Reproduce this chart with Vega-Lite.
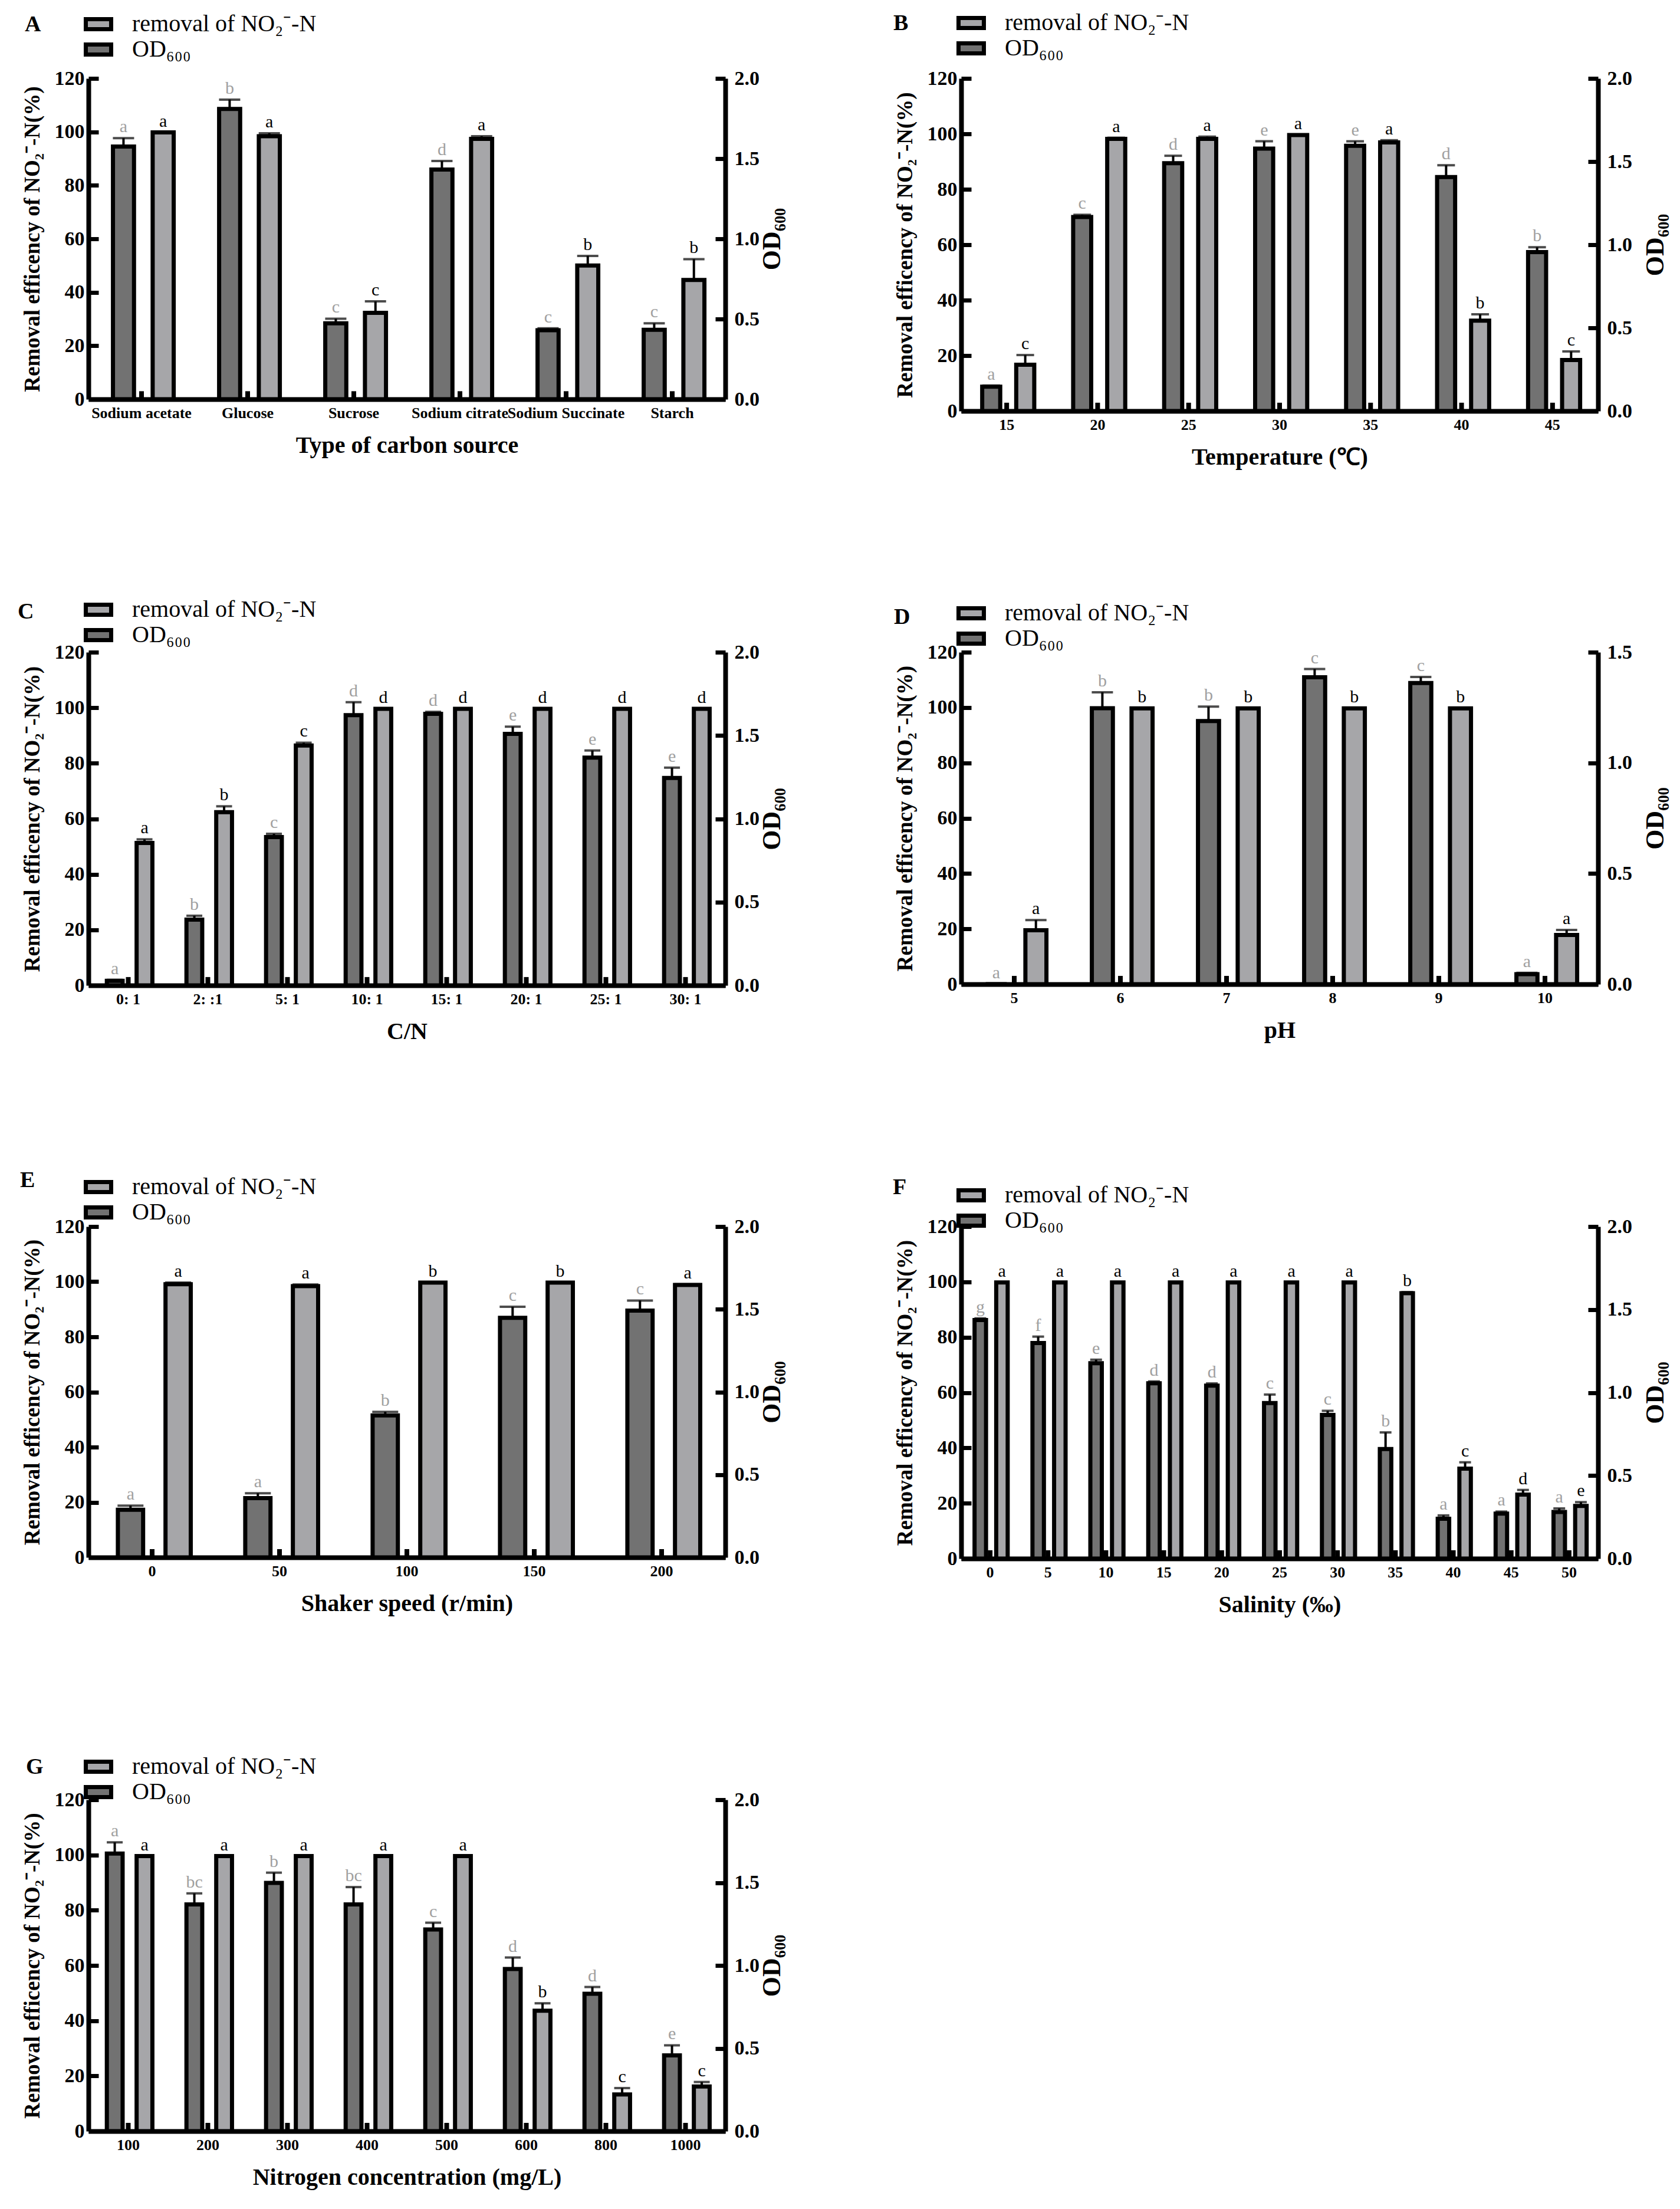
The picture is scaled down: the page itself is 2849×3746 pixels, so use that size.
{
"$schema": "https://vega.github.io/schema/vega-lite/v6.json",
"background": "white",
"padding": {"left": 30, "top": 19, "right": 5, "bottom": 5},
"config": {"view": {"stroke": null}, "font": "Liberation Serif"},
"datasets": {
"A": [
{"c":"Sodium acetate","s":"od","v":1.575,"hi":1.628,"l":"a"},
{"c":"Glucose","s":"od","v":1.81,"hi":1.868,"l":"b"},
{"c":"Sucrose","s":"od","v":0.473,"hi":0.502,"l":"c"},
{"c":"Sodium citrate","s":"od","v":1.432,"hi":1.485,"l":"d"},
{"c":"Sodium Succinate","s":"od","v":0.43,"hi":0.442,"l":"c"},
{"c":"Starch","s":"od","v":0.433,"hi":0.473,"l":"c"},
{"c":"Sodium acetate","s":"rem","v":99.8,"hi":99.8,"l":"a"},
{"c":"Glucose","s":"rem","v":98.4,"hi":99.5,"l":"a"},
{"c":"Sucrose","s":"rem","v":32.3,"hi":36.6,"l":"c"},
{"c":"Sodium citrate","s":"rem","v":97.4,"hi":98.4,"l":"a"},
{"c":"Sodium Succinate","s":"rem","v":50.0,"hi":53.6,"l":"b"},
{"c":"Starch","s":"rem","v":44.6,"hi":52.4,"l":"b"}
],
"B": [
{"c":"15","s":"od","v":0.146,"hi":0.153,"l":"a"},
{"c":"20","s":"od","v":1.167,"hi":1.18,"l":"c"},
{"c":"25","s":"od","v":1.49,"hi":1.535,"l":"d"},
{"c":"30","s":"od","v":1.578,"hi":1.622,"l":"e"},
{"c":"35","s":"od","v":1.595,"hi":1.622,"l":"e"},
{"c":"40","s":"od","v":1.407,"hi":1.478,"l":"d"},
{"c":"45","s":"od","v":0.956,"hi":0.985,"l":"b"},
{"c":"15","s":"rem","v":16.7,"hi":20.2,"l":"c"},
{"c":"20","s":"rem","v":98.2,"hi":98.6,"l":"a"},
{"c":"25","s":"rem","v":98.2,"hi":99.0,"l":"a"},
{"c":"30","s":"rem","v":99.6,"hi":99.6,"l":"a"},
{"c":"35","s":"rem","v":96.9,"hi":97.7,"l":"a"},
{"c":"40","s":"rem","v":32.6,"hi":34.9,"l":"b"},
{"c":"45","s":"rem","v":18.4,"hi":21.5,"l":"c"}
],
"C": [
{"c":"0: 1","s":"od","v":0.027,"hi":0.033,"l":"a"},
{"c":"2: :1","s":"od","v":0.395,"hi":0.418,"l":"b"},
{"c":"5: 1","s":"od","v":0.89,"hi":0.91,"l":"c"},
{"c":"10: 1","s":"od","v":1.622,"hi":1.7,"l":"d"},
{"c":"15: 1","s":"od","v":1.63,"hi":1.642,"l":"d"},
{"c":"20: 1","s":"od","v":1.51,"hi":1.553,"l":"e"},
{"c":"25: 1","s":"od","v":1.367,"hi":1.41,"l":"e"},
{"c":"30: 1","s":"od","v":1.245,"hi":1.307,"l":"e"},
{"c":"0: 1","s":"rem","v":51.3,"hi":52.6,"l":"a"},
{"c":"2: :1","s":"rem","v":62.4,"hi":64.5,"l":"b"},
{"c":"5: 1","s":"rem","v":86.4,"hi":87.4,"l":"c"},
{"c":"10: 1","s":"rem","v":99.6,"hi":99.6,"l":"d"},
{"c":"15: 1","s":"rem","v":99.6,"hi":99.6,"l":"d"},
{"c":"20: 1","s":"rem","v":99.6,"hi":99.6,"l":"d"},
{"c":"25: 1","s":"rem","v":99.6,"hi":99.6,"l":"d"},
{"c":"30: 1","s":"rem","v":99.6,"hi":99.6,"l":"d"}
],
"D": [
{"c":"5","s":"od","v":0,"hi":0,"l":"a"},
{"c":"6","s":"od","v":1.247,"hi":1.319,"l":"b"},
{"c":"7","s":"od","v":1.189,"hi":1.254,"l":"b"},
{"c":"8","s":"od","v":1.387,"hi":1.424,"l":"c"},
{"c":"9","s":"od","v":1.361,"hi":1.388,"l":"c"},
{"c":"10","s":"od","v":0.045,"hi":0.051,"l":"a"},
{"c":"5","s":"rem","v":19.5,"hi":23.2,"l":"a"},
{"c":"6","s":"rem","v":99.7,"hi":99.7,"l":"b"},
{"c":"7","s":"rem","v":99.7,"hi":99.7,"l":"b"},
{"c":"8","s":"rem","v":99.7,"hi":99.7,"l":"b"},
{"c":"9","s":"rem","v":99.7,"hi":99.7,"l":"b"},
{"c":"10","s":"rem","v":17.8,"hi":19.6,"l":"a"}
],
"E": [
{"c":"0","s":"od","v":0.288,"hi":0.313,"l":"a"},
{"c":"50","s":"od","v":0.358,"hi":0.388,"l":"a"},
{"c":"100","s":"od","v":0.858,"hi":0.88,"l":"b"},
{"c":"150","s":"od","v":1.448,"hi":1.515,"l":"c"},
{"c":"200","s":"od","v":1.492,"hi":1.553,"l":"c"},
{"c":"0","s":"rem","v":99.1,"hi":99.7,"l":"a"},
{"c":"50","s":"rem","v":98.4,"hi":99.0,"l":"a"},
{"c":"100","s":"rem","v":99.7,"hi":99.7,"l":"b"},
{"c":"150","s":"rem","v":99.7,"hi":99.7,"l":"b"},
{"c":"200","s":"rem","v":98.8,"hi":99.1,"l":"a"}
],
"F": [
{"c":"0","s":"od","v":1.437,"hi":1.447,"l":"g"},
{"c":"5","s":"od","v":1.298,"hi":1.337,"l":"f"},
{"c":"10","s":"od","v":1.177,"hi":1.198,"l":"e"},
{"c":"15","s":"od","v":1.056,"hi":1.067,"l":"d"},
{"c":"20","s":"od","v":1.042,"hi":1.055,"l":"d"},
{"c":"25","s":"od","v":0.937,"hi":0.988,"l":"c"},
{"c":"30","s":"od","v":0.865,"hi":0.89,"l":"c"},
{"c":"35","s":"od","v":0.66,"hi":0.76,"l":"b"},
{"c":"40","s":"od","v":0.24,"hi":0.26,"l":"a"},
{"c":"45","s":"od","v":0.271,"hi":0.283,"l":"a"},
{"c":"50","s":"od","v":0.281,"hi":0.302,"l":"a"},
{"c":"0","s":"rem","v":99.8,"hi":99.8,"l":"a"},
{"c":"5","s":"rem","v":99.8,"hi":99.8,"l":"a"},
{"c":"10","s":"rem","v":99.8,"hi":99.8,"l":"a"},
{"c":"15","s":"rem","v":99.8,"hi":99.8,"l":"a"},
{"c":"20","s":"rem","v":99.8,"hi":99.8,"l":"a"},
{"c":"25","s":"rem","v":99.8,"hi":99.8,"l":"a"},
{"c":"30","s":"rem","v":99.8,"hi":99.8,"l":"a"},
{"c":"35","s":"rem","v":95.9,"hi":96.3,"l":"b"},
{"c":"40","s":"rem","v":32.5,"hi":34.8,"l":"c"},
{"c":"45","s":"rem","v":23.1,"hi":24.8,"l":"d"},
{"c":"50","s":"rem","v":19.0,"hi":20.4,"l":"e"}
],
"G": [
{"c":"100","s":"od","v":1.675,"hi":1.743,"l":"a"},
{"c":"200","s":"od","v":1.368,"hi":1.435,"l":"bc"},
{"c":"300","s":"od","v":1.498,"hi":1.56,"l":"b"},
{"c":"400","s":"od","v":1.368,"hi":1.473,"l":"bc"},
{"c":"500","s":"od","v":1.217,"hi":1.258,"l":"c"},
{"c":"600","s":"od","v":0.979,"hi":1.048,"l":"d"},
{"c":"800","s":"od","v":0.829,"hi":0.87,"l":"d"},
{"c":"1000","s":"od","v":0.457,"hi":0.518,"l":"e"},
{"c":"100","s":"rem","v":99.6,"hi":99.6,"l":"a"},
{"c":"200","s":"rem","v":99.6,"hi":99.6,"l":"a"},
{"c":"300","s":"rem","v":99.6,"hi":99.6,"l":"a"},
{"c":"400","s":"rem","v":99.6,"hi":99.6,"l":"a"},
{"c":"500","s":"rem","v":99.6,"hi":99.6,"l":"a"},
{"c":"600","s":"rem","v":43.6,"hi":46.3,"l":"b"},
{"c":"800","s":"rem","v":13.3,"hi":15.6,"l":"c"},
{"c":"1000","s":"rem","v":16.2,"hi":17.8,"l":"c"}
]
},
"bounds": "flush",
"columns": 2,
"spacing": {"row": 409, "column": 400},
"resolve": {"scale": {"color": "independent", "xOffset": "independent", "x": "independent"}, "legend": {"color": "independent"}},
"concat": [
{
"title": {"text": "A", "anchor": "start", "frame": "group", "dx": -108, "dy": 59, "offset": 0, "baseline": "middle", "fontSize": 38, "font": "Liberation Serif", "fontWeight": "bold", "color": "black"},
"width": 1080, "height": 544,
"data": {"name": "A"},
"encoding": {"x": {"field": "c", "type": "nominal", "scale": {"domain": ["Sodium acetate","Glucose","Sucrose","Sodium citrate","Sodium Succinate","Starch"], "paddingInner": 0, "paddingOuter": -0.08},
 "axis": {"title": "Type of carbon source", "ticks": false, "domainWidth": 8, "domainColor": "black", "labelAngle": 0, "labelFontSize": 26, "labelFontWeight": "bold", "labelFont": "Liberation Serif", "labelColor": "black", "labelPadding": 10, "labelLimit": 500, "titleFontSize": 40, "titleFontWeight": "bold", "titleFont": "Liberation Serif", "titleColor": "black", "titlePadding": 22}}},
"layer": [
{"transform": [{"filter": "datum.s === 'rem'"}], "layer": [
 {"mark": {"type": "bar", "color": "black", "width": 8}, "encoding": {"y": {"datum": 3, "type": "quantitative", "scale": {"domain": [0, 120], "nice": false, "zero": true},
   "axis": {"title": "Removal efficency of NO₂⁻-N(%)", "orient": "left", "values": [0,20,40,60,80,100,120], "format": "d", "grid": false, "domainWidth": 8, "domainColor": "black", "tickWidth": 7, "tickColor": "black", "tickSize": -17, "labelPadding": 24, "labelFontSize": 34, "labelFontWeight": "bold", "labelFont": "Liberation Serif", "labelColor": "black", "titleFontSize": 37, "titleFont": "Liberation Serif", "titleFontWeight": "bold", "titleColor": "black", "titlePadding": 18}}}},
 {"mark": {"type": "bar", "stroke": "black", "strokeWidth": 7}, "encoding": {"xOffset": {"field": "s", "type": "nominal", "scale": {"domain": ["od","rem"], "paddingInner": 0.47, "paddingOuter": 0.572, "align": 0.54}}, "y": {"field": "v", "type": "quantitative"},
   "color": {"datum": "removal of NO₂⁻-N", "type": "nominal", "scale": {"domain": ["removal of NO₂⁻-N", "OD₆₀₀"], "range": ["#a6a6a9", "#727272"]},
     "legend": {"orient": "none", "legendX": -3, "legendY": -112, "title": null, "direction": "vertical", "symbolType": "M-2,-0.8H2V0.8H-2Z", "symbolSize": 462, "symbolStrokeWidth": 7, "symbolStrokeColor": "black", "labelFont": "Liberation Serif", "labelFontSize": 40, "labelColor": "black", "labelOffset": 37, "rowPadding": -8, "padding": 0, "labelLimit": 800}}}},
 {"mark": {"type": "rule", "color": "black", "strokeWidth": 4}, "encoding": {"xOffset": {"field": "s", "type": "nominal"}, "y": {"field": "v", "type": "quantitative"}, "y2": {"field": "hi"}}},
 {"mark": {"type": "tick", "color": "black", "thickness": 4, "size": 36}, "encoding": {"xOffset": {"field": "s", "type": "nominal"}, "y": {"field": "hi", "type": "quantitative"}}},
 {"mark": {"type": "text", "font": "Liberation Serif", "fontSize": 30, "baseline": "bottom", "dy": -4, "color": "black"}, "encoding": {"xOffset": {"field": "s", "type": "nominal"}, "y": {"field": "hi", "type": "quantitative"}, "text": {"field": "l"}}}
]},
{"transform": [{"filter": "datum.s === 'od'"}], "layer": [
 {"mark": {"type": "bar", "stroke": "black", "strokeWidth": 7}, "encoding": {"xOffset": {"field": "s", "type": "nominal"}, "y": {"field": "v", "type": "quantitative", "scale": {"domain": [0, 2], "nice": false, "zero": true},
   "axis": {"title": "OD₆₀₀", "orient": "right", "values": [0,0.5,1,1.5,2], "format": ".1f", "grid": false, "domainWidth": 8, "domainColor": "black", "tickWidth": 7, "tickColor": "black", "tickSize": -17, "labelPadding": 32, "labelFontSize": 34, "labelFontWeight": "bold", "labelFont": "Liberation Serif", "labelColor": "black", "titleFontSize": 44, "titleFont": "Liberation Serif", "titleFontWeight": "bold", "titleColor": "black", "titlePadding": 0, "titleAngle": 270, "titleBaseline": "top"}},
   "color": {"datum": "OD₆₀₀", "type": "nominal"}}},
 {"mark": {"type": "rule", "color": "black", "strokeWidth": 4}, "encoding": {"xOffset": {"field": "s", "type": "nominal"}, "y": {"field": "v", "type": "quantitative"}, "y2": {"field": "hi"}}},
 {"mark": {"type": "tick", "color": "black", "thickness": 4, "size": 36}, "encoding": {"xOffset": {"field": "s", "type": "nominal"}, "y": {"field": "hi", "type": "quantitative"}}},
 {"mark": {"type": "text", "font": "Liberation Serif", "fontSize": 30, "baseline": "bottom", "dy": -4, "color": "#a0a0a0"}, "encoding": {"xOffset": {"field": "s", "type": "nominal"}, "y": {"field": "hi", "type": "quantitative"}, "text": {"field": "l"}}}
]}
],
"resolve": {"scale": {"y": "independent"}}
},
{
"title": {"text": "B", "anchor": "start", "frame": "group", "dx": -115, "dy": 59, "offset": 0, "baseline": "middle", "fontSize": 38, "font": "Liberation Serif", "fontWeight": "bold", "color": "black"},
"width": 1080, "height": 564,
"data": {"name": "B"},
"encoding": {"x": {"field": "c", "type": "nominal", "scale": {"domain": ["15","20","25","30","35","40","45"], "paddingInner": 0, "paddingOuter": -0.08},
 "axis": {"title": "Temperature (℃)", "ticks": false, "domainWidth": 8, "domainColor": "black", "labelAngle": 0, "labelFontSize": 26, "labelFontWeight": "bold", "labelFont": "Liberation Serif", "labelColor": "black", "labelPadding": 10, "labelLimit": 500, "titleFontSize": 40, "titleFontWeight": "bold", "titleFont": "Liberation Serif", "titleColor": "black", "titlePadding": 22}}},
"layer": [
{"transform": [{"filter": "datum.s === 'rem'"}], "layer": [
 {"mark": {"type": "bar", "color": "black", "width": 8}, "encoding": {"y": {"datum": 3, "type": "quantitative", "scale": {"domain": [0, 120], "nice": false, "zero": true},
   "axis": {"title": "Removal efficency of NO₂⁻-N(%)", "orient": "left", "values": [0,20,40,60,80,100,120], "format": "d", "grid": false, "domainWidth": 8, "domainColor": "black", "tickWidth": 7, "tickColor": "black", "tickSize": -17, "labelPadding": 24, "labelFontSize": 34, "labelFontWeight": "bold", "labelFont": "Liberation Serif", "labelColor": "black", "titleFontSize": 37, "titleFont": "Liberation Serif", "titleFontWeight": "bold", "titleColor": "black", "titlePadding": 18}}}},
 {"mark": {"type": "bar", "stroke": "black", "strokeWidth": 7}, "encoding": {"xOffset": {"field": "s", "type": "nominal", "scale": {"domain": ["od","rem"], "paddingInner": 0.47, "paddingOuter": 0.572, "align": 0.54}}, "y": {"field": "v", "type": "quantitative"},
   "color": {"datum": "removal of NO₂⁻-N", "type": "nominal", "scale": {"domain": ["removal of NO₂⁻-N", "OD₆₀₀"], "range": ["#a6a6a9", "#727272"]},
     "legend": {"orient": "none", "legendX": -3, "legendY": -114, "title": null, "direction": "vertical", "symbolType": "M-2,-0.8H2V0.8H-2Z", "symbolSize": 462, "symbolStrokeWidth": 7, "symbolStrokeColor": "black", "labelFont": "Liberation Serif", "labelFontSize": 40, "labelColor": "black", "labelOffset": 37, "rowPadding": -8, "padding": 0, "labelLimit": 800}}}},
 {"mark": {"type": "rule", "color": "black", "strokeWidth": 4}, "encoding": {"xOffset": {"field": "s", "type": "nominal"}, "y": {"field": "v", "type": "quantitative"}, "y2": {"field": "hi"}}},
 {"mark": {"type": "tick", "color": "black", "thickness": 4, "size": 30}, "encoding": {"xOffset": {"field": "s", "type": "nominal"}, "y": {"field": "hi", "type": "quantitative"}}},
 {"mark": {"type": "text", "font": "Liberation Serif", "fontSize": 30, "baseline": "bottom", "dy": -4, "color": "black"}, "encoding": {"xOffset": {"field": "s", "type": "nominal"}, "y": {"field": "hi", "type": "quantitative"}, "text": {"field": "l"}}}
]},
{"transform": [{"filter": "datum.s === 'od'"}], "layer": [
 {"mark": {"type": "bar", "stroke": "black", "strokeWidth": 7}, "encoding": {"xOffset": {"field": "s", "type": "nominal"}, "y": {"field": "v", "type": "quantitative", "scale": {"domain": [0, 2], "nice": false, "zero": true},
   "axis": {"title": "OD₆₀₀", "orient": "right", "values": [0,0.5,1,1.5,2], "format": ".1f", "grid": false, "domainWidth": 8, "domainColor": "black", "tickWidth": 7, "tickColor": "black", "tickSize": -17, "labelPadding": 32, "labelFontSize": 34, "labelFontWeight": "bold", "labelFont": "Liberation Serif", "labelColor": "black", "titleFontSize": 44, "titleFont": "Liberation Serif", "titleFontWeight": "bold", "titleColor": "black", "titlePadding": 18, "titleAngle": 270, "titleBaseline": "top"}},
   "color": {"datum": "OD₆₀₀", "type": "nominal"}}},
 {"mark": {"type": "rule", "color": "black", "strokeWidth": 4}, "encoding": {"xOffset": {"field": "s", "type": "nominal"}, "y": {"field": "v", "type": "quantitative"}, "y2": {"field": "hi"}}},
 {"mark": {"type": "tick", "color": "black", "thickness": 4, "size": 30}, "encoding": {"xOffset": {"field": "s", "type": "nominal"}, "y": {"field": "hi", "type": "quantitative"}}},
 {"mark": {"type": "text", "font": "Liberation Serif", "fontSize": 30, "baseline": "bottom", "dy": -4, "color": "#a0a0a0"}, "encoding": {"xOffset": {"field": "s", "type": "nominal"}, "y": {"field": "hi", "type": "quantitative"}, "text": {"field": "l"}}}
]}
],
"resolve": {"scale": {"y": "independent"}}
},
{
"title": {"text": "C", "anchor": "start", "frame": "group", "dx": -120, "dy": 62, "offset": 0, "baseline": "middle", "fontSize": 38, "font": "Liberation Serif", "fontWeight": "bold", "color": "black"},
"width": 1080, "height": 565,
"data": {"name": "C"},
"encoding": {"x": {"field": "c", "type": "nominal", "scale": {"domain": ["0: 1","2: :1","5: 1","10: 1","15: 1","20: 1","25: 1","30: 1"], "paddingInner": 0, "paddingOuter": -0.08},
 "axis": {"title": "C/N", "ticks": false, "domainWidth": 8, "domainColor": "black", "labelAngle": 0, "labelFontSize": 26, "labelFontWeight": "bold", "labelFont": "Liberation Serif", "labelColor": "black", "labelPadding": 10, "labelLimit": 500, "titleFontSize": 40, "titleFontWeight": "bold", "titleFont": "Liberation Serif", "titleColor": "black", "titlePadding": 22}}},
"layer": [
{"transform": [{"filter": "datum.s === 'rem'"}], "layer": [
 {"mark": {"type": "bar", "color": "black", "width": 8}, "encoding": {"y": {"datum": 3, "type": "quantitative", "scale": {"domain": [0, 120], "nice": false, "zero": true},
   "axis": {"title": "Removal efficency of NO₂⁻-N(%)", "orient": "left", "values": [0,20,40,60,80,100,120], "format": "d", "grid": false, "domainWidth": 8, "domainColor": "black", "tickWidth": 7, "tickColor": "black", "tickSize": -17, "labelPadding": 24, "labelFontSize": 34, "labelFontWeight": "bold", "labelFont": "Liberation Serif", "labelColor": "black", "titleFontSize": 37, "titleFont": "Liberation Serif", "titleFontWeight": "bold", "titleColor": "black", "titlePadding": 18}}}},
 {"mark": {"type": "bar", "stroke": "black", "strokeWidth": 7}, "encoding": {"xOffset": {"field": "s", "type": "nominal", "scale": {"domain": ["od","rem"], "paddingInner": 0.47, "paddingOuter": 0.572, "align": 0.54}}, "y": {"field": "v", "type": "quantitative"},
   "color": {"datum": "removal of NO₂⁻-N", "type": "nominal", "scale": {"domain": ["removal of NO₂⁻-N", "OD₆₀₀"], "range": ["#a6a6a9", "#727272"]},
     "legend": {"orient": "none", "legendX": -3, "legendY": -92, "title": null, "direction": "vertical", "symbolType": "M-2,-0.8H2V0.8H-2Z", "symbolSize": 462, "symbolStrokeWidth": 7, "symbolStrokeColor": "black", "labelFont": "Liberation Serif", "labelFontSize": 40, "labelColor": "black", "labelOffset": 37, "rowPadding": -14, "padding": 0, "labelLimit": 800}}}},
 {"mark": {"type": "rule", "color": "black", "strokeWidth": 4}, "encoding": {"xOffset": {"field": "s", "type": "nominal"}, "y": {"field": "v", "type": "quantitative"}, "y2": {"field": "hi"}}},
 {"mark": {"type": "tick", "color": "black", "thickness": 4, "size": 27}, "encoding": {"xOffset": {"field": "s", "type": "nominal"}, "y": {"field": "hi", "type": "quantitative"}}},
 {"mark": {"type": "text", "font": "Liberation Serif", "fontSize": 30, "baseline": "bottom", "dy": -4, "color": "black"}, "encoding": {"xOffset": {"field": "s", "type": "nominal"}, "y": {"field": "hi", "type": "quantitative"}, "text": {"field": "l"}}}
]},
{"transform": [{"filter": "datum.s === 'od'"}], "layer": [
 {"mark": {"type": "bar", "stroke": "black", "strokeWidth": 7}, "encoding": {"xOffset": {"field": "s", "type": "nominal"}, "y": {"field": "v", "type": "quantitative", "scale": {"domain": [0, 2], "nice": false, "zero": true},
   "axis": {"title": "OD₆₀₀", "orient": "right", "values": [0,0.5,1,1.5,2], "format": ".1f", "grid": false, "domainWidth": 8, "domainColor": "black", "tickWidth": 7, "tickColor": "black", "tickSize": -17, "labelPadding": 32, "labelFontSize": 34, "labelFontWeight": "bold", "labelFont": "Liberation Serif", "labelColor": "black", "titleFontSize": 44, "titleFont": "Liberation Serif", "titleFontWeight": "bold", "titleColor": "black", "titlePadding": 0, "titleAngle": 270, "titleBaseline": "top"}},
   "color": {"datum": "OD₆₀₀", "type": "nominal"}}},
 {"mark": {"type": "rule", "color": "black", "strokeWidth": 4}, "encoding": {"xOffset": {"field": "s", "type": "nominal"}, "y": {"field": "v", "type": "quantitative"}, "y2": {"field": "hi"}}},
 {"mark": {"type": "tick", "color": "black", "thickness": 4, "size": 27}, "encoding": {"xOffset": {"field": "s", "type": "nominal"}, "y": {"field": "hi", "type": "quantitative"}}},
 {"mark": {"type": "text", "font": "Liberation Serif", "fontSize": 30, "baseline": "bottom", "dy": -4, "color": "#a0a0a0"}, "encoding": {"xOffset": {"field": "s", "type": "nominal"}, "y": {"field": "hi", "type": "quantitative"}, "text": {"field": "l"}}}
]}
],
"resolve": {"scale": {"y": "independent"}}
},
{
"title": {"text": "D", "anchor": "start", "frame": "group", "dx": -114, "dy": 65, "offset": 0, "baseline": "middle", "fontSize": 38, "font": "Liberation Serif", "fontWeight": "bold", "color": "black"},
"width": 1080, "height": 563,
"data": {"name": "D"},
"encoding": {"x": {"field": "c", "type": "nominal", "scale": {"domain": ["5","6","7","8","9","10"], "paddingInner": 0, "paddingOuter": -0.08},
 "axis": {"title": "pH", "ticks": false, "domainWidth": 8, "domainColor": "black", "labelAngle": 0, "labelFontSize": 26, "labelFontWeight": "bold", "labelFont": "Liberation Serif", "labelColor": "black", "labelPadding": 10, "labelLimit": 500, "titleFontSize": 40, "titleFontWeight": "bold", "titleFont": "Liberation Serif", "titleColor": "black", "titlePadding": 22}}},
"layer": [
{"transform": [{"filter": "datum.s === 'rem'"}], "layer": [
 {"mark": {"type": "bar", "color": "black", "width": 8}, "encoding": {"y": {"datum": 3, "type": "quantitative", "scale": {"domain": [0, 120], "nice": false, "zero": true},
   "axis": {"title": "Removal efficency of NO₂⁻-N(%)", "orient": "left", "values": [0,20,40,60,80,100,120], "format": "d", "grid": false, "domainWidth": 8, "domainColor": "black", "tickWidth": 7, "tickColor": "black", "tickSize": -17, "labelPadding": 24, "labelFontSize": 34, "labelFontWeight": "bold", "labelFont": "Liberation Serif", "labelColor": "black", "titleFontSize": 37, "titleFont": "Liberation Serif", "titleFontWeight": "bold", "titleColor": "black", "titlePadding": 18}}}},
 {"mark": {"type": "bar", "stroke": "black", "strokeWidth": 7}, "encoding": {"xOffset": {"field": "s", "type": "nominal", "scale": {"domain": ["od","rem"], "paddingInner": 0.47, "paddingOuter": 0.572, "align": 0.54}}, "y": {"field": "v", "type": "quantitative"},
   "color": {"datum": "removal of NO₂⁻-N", "type": "nominal", "scale": {"domain": ["removal of NO₂⁻-N", "OD₆₀₀"], "range": ["#a6a6a9", "#727272"]},
     "legend": {"orient": "none", "legendX": -3, "legendY": -86, "title": null, "direction": "vertical", "symbolType": "M-2,-0.8H2V0.8H-2Z", "symbolSize": 462, "symbolStrokeWidth": 7, "symbolStrokeColor": "black", "labelFont": "Liberation Serif", "labelFontSize": 40, "labelColor": "black", "labelOffset": 37, "rowPadding": -18, "padding": 0, "labelLimit": 800}}}},
 {"mark": {"type": "rule", "color": "black", "strokeWidth": 4}, "encoding": {"xOffset": {"field": "s", "type": "nominal"}, "y": {"field": "v", "type": "quantitative"}, "y2": {"field": "hi"}}},
 {"mark": {"type": "tick", "color": "black", "thickness": 4, "size": 36}, "encoding": {"xOffset": {"field": "s", "type": "nominal"}, "y": {"field": "hi", "type": "quantitative"}}},
 {"mark": {"type": "text", "font": "Liberation Serif", "fontSize": 30, "baseline": "bottom", "dy": -4, "color": "black"}, "encoding": {"xOffset": {"field": "s", "type": "nominal"}, "y": {"field": "hi", "type": "quantitative"}, "text": {"field": "l"}}}
]},
{"transform": [{"filter": "datum.s === 'od'"}], "layer": [
 {"mark": {"type": "bar", "stroke": "black", "strokeWidth": 7}, "encoding": {"xOffset": {"field": "s", "type": "nominal"}, "y": {"field": "v", "type": "quantitative", "scale": {"domain": [0, 1.5], "nice": false, "zero": true},
   "axis": {"title": "OD₆₀₀", "orient": "right", "values": [0,0.5,1,1.5], "format": ".1f", "grid": false, "domainWidth": 8, "domainColor": "black", "tickWidth": 7, "tickColor": "black", "tickSize": -17, "labelPadding": 32, "labelFontSize": 34, "labelFontWeight": "bold", "labelFont": "Liberation Serif", "labelColor": "black", "titleFontSize": 44, "titleFont": "Liberation Serif", "titleFontWeight": "bold", "titleColor": "black", "titlePadding": 18, "titleAngle": 270, "titleBaseline": "top"}},
   "color": {"datum": "OD₆₀₀", "type": "nominal"}}},
 {"mark": {"type": "rule", "color": "black", "strokeWidth": 4}, "encoding": {"xOffset": {"field": "s", "type": "nominal"}, "y": {"field": "v", "type": "quantitative"}, "y2": {"field": "hi"}}},
 {"mark": {"type": "tick", "color": "black", "thickness": 4, "size": 36}, "encoding": {"xOffset": {"field": "s", "type": "nominal"}, "y": {"field": "hi", "type": "quantitative"}}},
 {"mark": {"type": "text", "font": "Liberation Serif", "fontSize": 30, "baseline": "bottom", "dy": -4, "color": "#a0a0a0"}, "encoding": {"xOffset": {"field": "s", "type": "nominal"}, "y": {"field": "hi", "type": "quantitative"}, "text": {"field": "l"}}}
]}
],
"resolve": {"scale": {"y": "independent"}}
},
{
"title": {"text": "E", "anchor": "start", "frame": "group", "dx": -116, "dy": 47, "offset": 0, "baseline": "middle", "fontSize": 38, "font": "Liberation Serif", "fontWeight": "bold", "color": "black"},
"width": 1080, "height": 561,
"data": {"name": "E"},
"encoding": {"x": {"field": "c", "type": "nominal", "scale": {"domain": ["0","50","100","150","200"], "paddingInner": 0, "paddingOuter": -0.08},
 "axis": {"title": "Shaker speed (r/min)", "ticks": false, "domainWidth": 8, "domainColor": "black", "labelAngle": 0, "labelFontSize": 26, "labelFontWeight": "bold", "labelFont": "Liberation Serif", "labelColor": "black", "labelPadding": 10, "labelLimit": 500, "titleFontSize": 40, "titleFontWeight": "bold", "titleFont": "Liberation Serif", "titleColor": "black", "titlePadding": 22}}},
"layer": [
{"transform": [{"filter": "datum.s === 'rem'"}], "layer": [
 {"mark": {"type": "bar", "color": "black", "width": 8}, "encoding": {"y": {"datum": 3, "type": "quantitative", "scale": {"domain": [0, 120], "nice": false, "zero": true},
   "axis": {"title": "Removal efficency of NO₂⁻-N(%)", "orient": "left", "values": [0,20,40,60,80,100,120], "format": "d", "grid": false, "domainWidth": 8, "domainColor": "black", "tickWidth": 7, "tickColor": "black", "tickSize": -17, "labelPadding": 24, "labelFontSize": 34, "labelFontWeight": "bold", "labelFont": "Liberation Serif", "labelColor": "black", "titleFontSize": 37, "titleFont": "Liberation Serif", "titleFontWeight": "bold", "titleColor": "black", "titlePadding": 18}}}},
 {"mark": {"type": "bar", "stroke": "black", "strokeWidth": 7}, "encoding": {"xOffset": {"field": "s", "type": "nominal", "scale": {"domain": ["od","rem"], "paddingInner": 0.47, "paddingOuter": 0.572, "align": 0.54}}, "y": {"field": "v", "type": "quantitative"},
   "color": {"datum": "removal of NO₂⁻-N", "type": "nominal", "scale": {"domain": ["removal of NO₂⁻-N", "OD₆₀₀"], "range": ["#a6a6a9", "#727272"]},
     "legend": {"orient": "none", "legendX": -3, "legendY": -87, "title": null, "direction": "vertical", "symbolType": "M-2,-0.8H2V0.8H-2Z", "symbolSize": 462, "symbolStrokeWidth": 7, "symbolStrokeColor": "black", "labelFont": "Liberation Serif", "labelFontSize": 40, "labelColor": "black", "labelOffset": 37, "rowPadding": -17, "padding": 0, "labelLimit": 800}}}},
 {"mark": {"type": "rule", "color": "black", "strokeWidth": 4}, "encoding": {"xOffset": {"field": "s", "type": "nominal"}, "y": {"field": "v", "type": "quantitative"}, "y2": {"field": "hi"}}},
 {"mark": {"type": "tick", "color": "black", "thickness": 4, "size": 44}, "encoding": {"xOffset": {"field": "s", "type": "nominal"}, "y": {"field": "hi", "type": "quantitative"}}},
 {"mark": {"type": "text", "font": "Liberation Serif", "fontSize": 30, "baseline": "bottom", "dy": -4, "color": "black"}, "encoding": {"xOffset": {"field": "s", "type": "nominal"}, "y": {"field": "hi", "type": "quantitative"}, "text": {"field": "l"}}}
]},
{"transform": [{"filter": "datum.s === 'od'"}], "layer": [
 {"mark": {"type": "bar", "stroke": "black", "strokeWidth": 7}, "encoding": {"xOffset": {"field": "s", "type": "nominal"}, "y": {"field": "v", "type": "quantitative", "scale": {"domain": [0, 2], "nice": false, "zero": true},
   "axis": {"title": "OD₆₀₀", "orient": "right", "values": [0,0.5,1,1.5,2], "format": ".1f", "grid": false, "domainWidth": 8, "domainColor": "black", "tickWidth": 7, "tickColor": "black", "tickSize": -17, "labelPadding": 32, "labelFontSize": 34, "labelFontWeight": "bold", "labelFont": "Liberation Serif", "labelColor": "black", "titleFontSize": 44, "titleFont": "Liberation Serif", "titleFontWeight": "bold", "titleColor": "black", "titlePadding": 0, "titleAngle": 270, "titleBaseline": "top"}},
   "color": {"datum": "OD₆₀₀", "type": "nominal"}}},
 {"mark": {"type": "rule", "color": "black", "strokeWidth": 4}, "encoding": {"xOffset": {"field": "s", "type": "nominal"}, "y": {"field": "v", "type": "quantitative"}, "y2": {"field": "hi"}}},
 {"mark": {"type": "tick", "color": "black", "thickness": 4, "size": 44}, "encoding": {"xOffset": {"field": "s", "type": "nominal"}, "y": {"field": "hi", "type": "quantitative"}}},
 {"mark": {"type": "text", "font": "Liberation Serif", "fontSize": 30, "baseline": "bottom", "dy": -4, "color": "#a0a0a0"}, "encoding": {"xOffset": {"field": "s", "type": "nominal"}, "y": {"field": "hi", "type": "quantitative"}, "text": {"field": "l"}}}
]}
],
"resolve": {"scale": {"y": "independent"}}
},
{
"title": {"text": "F", "anchor": "start", "frame": "group", "dx": -116, "dy": 45, "offset": 0, "baseline": "middle", "fontSize": 38, "font": "Liberation Serif", "fontWeight": "bold", "color": "black"},
"width": 1080, "height": 563,
"data": {"name": "F"},
"encoding": {"x": {"field": "c", "type": "nominal", "scale": {"domain": ["0","5","10","15","20","25","30","35","40","45","50"], "paddingInner": 0, "paddingOuter": -0.08},
 "axis": {"title": "Salinity (‰)", "ticks": false, "domainWidth": 8, "domainColor": "black", "labelAngle": 0, "labelFontSize": 26, "labelFontWeight": "bold", "labelFont": "Liberation Serif", "labelColor": "black", "labelPadding": 10, "labelLimit": 500, "titleFontSize": 40, "titleFontWeight": "bold", "titleFont": "Liberation Serif", "titleColor": "black", "titlePadding": 22}}},
"layer": [
{"transform": [{"filter": "datum.s === 'rem'"}], "layer": [
 {"mark": {"type": "bar", "color": "black", "width": 8}, "encoding": {"y": {"datum": 3, "type": "quantitative", "scale": {"domain": [0, 120], "nice": false, "zero": true},
   "axis": {"title": "Removal efficency of NO₂⁻-N(%)", "orient": "left", "values": [0,20,40,60,80,100,120], "format": "d", "grid": false, "domainWidth": 8, "domainColor": "black", "tickWidth": 7, "tickColor": "black", "tickSize": -17, "labelPadding": 24, "labelFontSize": 34, "labelFontWeight": "bold", "labelFont": "Liberation Serif", "labelColor": "black", "titleFontSize": 37, "titleFont": "Liberation Serif", "titleFontWeight": "bold", "titleColor": "black", "titlePadding": 18}}}},
 {"mark": {"type": "bar", "stroke": "black", "strokeWidth": 7}, "encoding": {"xOffset": {"field": "s", "type": "nominal", "scale": {"domain": ["od","rem"], "paddingInner": 0.47, "paddingOuter": 0.572, "align": 0.54}}, "y": {"field": "v", "type": "quantitative"},
   "color": {"datum": "removal of NO₂⁻-N", "type": "nominal", "scale": {"domain": ["removal of NO₂⁻-N", "OD₆₀₀"], "range": ["#a6a6a9", "#727272"]},
     "legend": {"orient": "none", "legendX": -3, "legendY": -73, "title": null, "direction": "vertical", "symbolType": "M-2,-0.8H2V0.8H-2Z", "symbolSize": 462, "symbolStrokeWidth": 7, "symbolStrokeColor": "black", "labelFont": "Liberation Serif", "labelFontSize": 40, "labelColor": "black", "labelOffset": 37, "rowPadding": -24, "padding": 0, "labelLimit": 800}}}},
 {"mark": {"type": "rule", "color": "black", "strokeWidth": 4}, "encoding": {"xOffset": {"field": "s", "type": "nominal"}, "y": {"field": "v", "type": "quantitative"}, "y2": {"field": "hi"}}},
 {"mark": {"type": "tick", "color": "black", "thickness": 4, "size": 20}, "encoding": {"xOffset": {"field": "s", "type": "nominal"}, "y": {"field": "hi", "type": "quantitative"}}},
 {"mark": {"type": "text", "font": "Liberation Serif", "fontSize": 30, "baseline": "bottom", "dy": -4, "color": "black"}, "encoding": {"xOffset": {"field": "s", "type": "nominal"}, "y": {"field": "hi", "type": "quantitative"}, "text": {"field": "l"}}}
]},
{"transform": [{"filter": "datum.s === 'od'"}], "layer": [
 {"mark": {"type": "bar", "stroke": "black", "strokeWidth": 7}, "encoding": {"xOffset": {"field": "s", "type": "nominal"}, "y": {"field": "v", "type": "quantitative", "scale": {"domain": [0, 2], "nice": false, "zero": true},
   "axis": {"title": "OD₆₀₀", "orient": "right", "values": [0,0.5,1,1.5,2], "format": ".1f", "grid": false, "domainWidth": 8, "domainColor": "black", "tickWidth": 7, "tickColor": "black", "tickSize": -17, "labelPadding": 32, "labelFontSize": 34, "labelFontWeight": "bold", "labelFont": "Liberation Serif", "labelColor": "black", "titleFontSize": 44, "titleFont": "Liberation Serif", "titleFontWeight": "bold", "titleColor": "black", "titlePadding": 18, "titleAngle": 270, "titleBaseline": "top"}},
   "color": {"datum": "OD₆₀₀", "type": "nominal"}}},
 {"mark": {"type": "rule", "color": "black", "strokeWidth": 4}, "encoding": {"xOffset": {"field": "s", "type": "nominal"}, "y": {"field": "v", "type": "quantitative"}, "y2": {"field": "hi"}}},
 {"mark": {"type": "tick", "color": "black", "thickness": 4, "size": 20}, "encoding": {"xOffset": {"field": "s", "type": "nominal"}, "y": {"field": "hi", "type": "quantitative"}}},
 {"mark": {"type": "text", "font": "Liberation Serif", "fontSize": 30, "baseline": "bottom", "dy": -4, "color": "#a0a0a0"}, "encoding": {"xOffset": {"field": "s", "type": "nominal"}, "y": {"field": "hi", "type": "quantitative"}, "text": {"field": "l"}}}
]}
],
"resolve": {"scale": {"y": "independent"}}
},
{
"title": {"text": "G", "anchor": "start", "frame": "group", "dx": -106, "dy": 59, "offset": 0, "baseline": "middle", "fontSize": 38, "font": "Liberation Serif", "fontWeight": "bold", "color": "black"},
"width": 1080, "height": 562,
"data": {"name": "G"},
"encoding": {"x": {"field": "c", "type": "nominal", "scale": {"domain": ["100","200","300","400","500","600","800","1000"], "paddingInner": 0, "paddingOuter": -0.08},
 "axis": {"title": "Nitrogen concentration (mg/L)", "ticks": false, "domainWidth": 8, "domainColor": "black", "labelAngle": 0, "labelFontSize": 26, "labelFontWeight": "bold", "labelFont": "Liberation Serif", "labelColor": "black", "labelPadding": 10, "labelLimit": 500, "titleFontSize": 40, "titleFontWeight": "bold", "titleFont": "Liberation Serif", "titleColor": "black", "titlePadding": 22}}},
"layer": [
{"transform": [{"filter": "datum.s === 'rem'"}], "layer": [
 {"mark": {"type": "bar", "color": "black", "width": 8}, "encoding": {"y": {"datum": 3, "type": "quantitative", "scale": {"domain": [0, 120], "nice": false, "zero": true},
   "axis": {"title": "Removal efficency of NO₂⁻-N(%)", "orient": "left", "values": [0,20,40,60,80,100,120], "format": "d", "grid": false, "domainWidth": 8, "domainColor": "black", "tickWidth": 7, "tickColor": "black", "tickSize": -17, "labelPadding": 24, "labelFontSize": 34, "labelFontWeight": "bold", "labelFont": "Liberation Serif", "labelColor": "black", "titleFontSize": 37, "titleFont": "Liberation Serif", "titleFontWeight": "bold", "titleColor": "black", "titlePadding": 18}}}},
 {"mark": {"type": "bar", "stroke": "black", "strokeWidth": 7}, "encoding": {"xOffset": {"field": "s", "type": "nominal", "scale": {"domain": ["od","rem"], "paddingInner": 0.47, "paddingOuter": 0.572, "align": 0.54}}, "y": {"field": "v", "type": "quantitative"},
   "color": {"datum": "removal of NO₂⁻-N", "type": "nominal", "scale": {"domain": ["removal of NO₂⁻-N", "OD₆₀₀"], "range": ["#a6a6a9", "#727272"]},
     "legend": {"orient": "none", "legendX": -3, "legendY": -76, "title": null, "direction": "vertical", "symbolType": "M-2,-0.8H2V0.8H-2Z", "symbolSize": 462, "symbolStrokeWidth": 7, "symbolStrokeColor": "black", "labelFont": "Liberation Serif", "labelFontSize": 40, "labelColor": "black", "labelOffset": 37, "rowPadding": -20, "padding": 0, "labelLimit": 800}}}},
 {"mark": {"type": "rule", "color": "black", "strokeWidth": 4}, "encoding": {"xOffset": {"field": "s", "type": "nominal"}, "y": {"field": "v", "type": "quantitative"}, "y2": {"field": "hi"}}},
 {"mark": {"type": "tick", "color": "black", "thickness": 4, "size": 27}, "encoding": {"xOffset": {"field": "s", "type": "nominal"}, "y": {"field": "hi", "type": "quantitative"}}},
 {"mark": {"type": "text", "font": "Liberation Serif", "fontSize": 30, "baseline": "bottom", "dy": -4, "color": "black"}, "encoding": {"xOffset": {"field": "s", "type": "nominal"}, "y": {"field": "hi", "type": "quantitative"}, "text": {"field": "l"}}}
]},
{"transform": [{"filter": "datum.s === 'od'"}], "layer": [
 {"mark": {"type": "bar", "stroke": "black", "strokeWidth": 7}, "encoding": {"xOffset": {"field": "s", "type": "nominal"}, "y": {"field": "v", "type": "quantitative", "scale": {"domain": [0, 2], "nice": false, "zero": true},
   "axis": {"title": "OD₆₀₀", "orient": "right", "values": [0,0.5,1,1.5,2], "format": ".1f", "grid": false, "domainWidth": 8, "domainColor": "black", "tickWidth": 7, "tickColor": "black", "tickSize": -17, "labelPadding": 32, "labelFontSize": 34, "labelFontWeight": "bold", "labelFont": "Liberation Serif", "labelColor": "black", "titleFontSize": 44, "titleFont": "Liberation Serif", "titleFontWeight": "bold", "titleColor": "black", "titlePadding": 0, "titleAngle": 270, "titleBaseline": "top"}},
   "color": {"datum": "OD₆₀₀", "type": "nominal"}}},
 {"mark": {"type": "rule", "color": "black", "strokeWidth": 4}, "encoding": {"xOffset": {"field": "s", "type": "nominal"}, "y": {"field": "v", "type": "quantitative"}, "y2": {"field": "hi"}}},
 {"mark": {"type": "tick", "color": "black", "thickness": 4, "size": 27}, "encoding": {"xOffset": {"field": "s", "type": "nominal"}, "y": {"field": "hi", "type": "quantitative"}}},
 {"mark": {"type": "text", "font": "Liberation Serif", "fontSize": 30, "baseline": "bottom", "dy": -4, "color": "#a0a0a0"}, "encoding": {"xOffset": {"field": "s", "type": "nominal"}, "y": {"field": "hi", "type": "quantitative"}, "text": {"field": "l"}}}
]}
],
"resolve": {"scale": {"y": "independent"}}
}
]
}
